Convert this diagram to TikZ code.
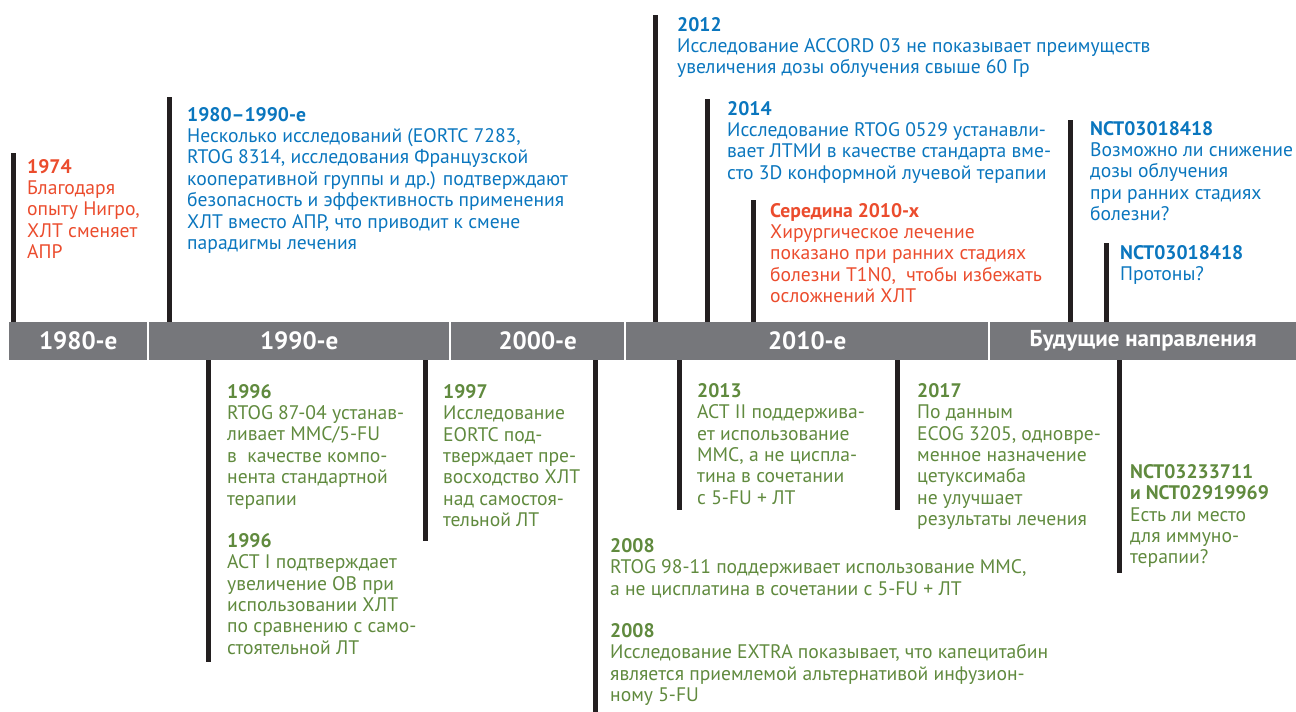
\documentclass[tikz,border=0pt]{standalone}
\usepackage{fontspec}
\setmainfont{PT Sans}
\usetikzlibrary{positioning, calc}

\definecolor{evred}{RGB}{235,76,45}
\definecolor{evblue}{RGB}{10,118,190}
\definecolor{evgreen}{RGB}{96,138,62}
\definecolor{bargray}{RGB}{118,119,123}
\definecolor{tickblack}{RGB}{35,31,32}

\begin{document}
\begin{tikzpicture}[
  x=1pt, y=-1pt,
  event/.style = {anchor=north west, align=left, inner sep=0pt,
                  font=\fontsize{19.6}{21.4}\selectfont},
  era/.style = {fill=bargray, text=white, anchor=north west, inner sep=0pt,
                minimum height=38pt, font=\fontsize{25}{25}\selectfont\bfseries},
  tick/.style = {draw=tickblack, line width=5pt}
]
  \useasboundingbox (0,0) rectangle (1296,712);

  % Decades bar
  \node[era, minimum width=138pt] (bar80) at (9,322) {1980-е};
  \node[era, minimum width=300pt] (bar90) at (149,322) {1990-е};
  \node[era, minimum width=173pt] (bar00) at (451,322) {2000-е};
  \node[era, minimum width=362pt] (bar10) at (626,322) {2010-е};
  \node[era, minimum width=306pt, font=\fontsize{23}{23}\selectfont\bfseries] (barfut) at (990,322) {Будущие направления};

  % Events above the bar
  \node[event, text=evred] (ev1974) at (27,159) {\textbf{1974}\\Благодаря\\опыту Нигро,\\ХЛТ сменяет\\АПР};
  \node[event, text=evblue] (ev8090) at (187,107) {\textbf{1980–1990-е}\\Несколько исследований (EORTC 7283,\\RTOG 8314, исследования Французской\\кооперативной группы и др.) подтверждают\\безопасность и эффективность применения\\ХЛТ вместо АПР, что приводит к смене\\парадигмы лечения};
  \node[event, text=evblue] (ev2012) at (677,17) {\textbf{2012}\\Исследование ACCORD 03 не показывает преимуществ\\увеличения дозы облучения свыше 60 Гр};
  \node[event, text=evblue] (ev2014) at (727,101) {\textbf{2014}\\Исследование RTOG 0529 устанавли-\\вает ЛТМИ в качестве стандарта вме-\\сто 3D конформной лучевой терапии};
  \node[event, text=evred] (evmid) at (770,203) {\textbf{Середина 2010-х}\\Хирургическое лечение\\показано при ранних стадиях\\болезни T1N0,\ \ чтобы избежать\\осложнений ХЛТ};
  \node[event, text=evblue] (evdose) at (1090,121) {\textbf{NCT03018418}\\Возможно ли снижение\\дозы облучения\\при ранних стадиях\\болезни?};
  \node[event, text=evblue] (evproton) at (1120,245) {\textbf{NCT03018418}\\Протоны?};

  % Events below the bar
  \node[event, text=evgreen] (ev1996a) at (227,384) {\textbf{1996}\\RTOG 87-04 устанав-\\ливает MMC/5-FU\\в\ \ качестве компо-\\нента стандартной\\терапии};
  \node[event, text=evgreen] (ev1996b) at (227,533) {\textbf{1996}\\ACT I подтверждает\\увеличение ОВ при\\использовании ХЛТ\\по сравнению с само-\\стоятельной ЛТ};
  \node[event, text=evgreen] (ev1997) at (443,384) {\textbf{1997}\\Исследование\\EORTC под-\\тверждает пре-\\восходство ХЛТ\\над самостоя-\\тельной ЛТ};
  \node[event, text=evgreen] (ev2008a) at (610,538) {\textbf{2008}\\RTOG 98-11 поддерживает использование MMC,\\а не цисплатина в сочетании с 5-FU + ЛТ};
  \node[event, text=evgreen] (ev2008b) at (610,623) {\textbf{2008}\\Исследование EXTRA показывает, что капецитабин\\является приемлемой альтернативой инфузион-\\ному 5-FU};
  \node[event, text=evgreen] (ev2013) at (697,383) {\textbf{2013}\\ACT II поддержива-\\ет использование\\MMC, а не циспла-\\тина в сочетании\\с 5-FU + ЛТ};
  \node[event, text=evgreen] (ev2017) at (917,383) {\textbf{2017}\\По данным\\ECOG 3205, одновре-\\менное назначение\\цетуксимаба\\не улучшает\\результаты лечения};
  \node[event, text=evgreen] (evimmuno) at (1130,464) {\textbf{NCT03233711}\\\textbf{и NCT02919969}\\Есть ли место\\для иммуно-\\терапии?};

  % Ticks up
  \coordinate (t1974) at (13,153);
  \coordinate (t8090) at (169,97);
  \coordinate (t2012) at (655,15);
  \coordinate (t2014) at (707,99);
  \coordinate (tmid) at (753,200);
  \coordinate (tdose) at (1070,120);
  \coordinate (tproton) at (1106,243);
  \draw[tick] (t1974) -- (t1974 |- bar80.north);
  \draw[tick] (t8090) -- (t8090 |- bar90.north);
  \draw[tick] (t2012) -- (t2012 |- bar10.north);
  \draw[tick] (t2014) -- (t2014 |- bar10.north);
  \draw[tick] (tmid) -- (tmid |- bar10.north);
  \draw[tick] (tdose) -- (tdose |- barfut.north);
  \draw[tick] (tproton) -- (tproton |- barfut.north);

  % Ticks down
  \coordinate (b1996) at (208,662);
  \coordinate (b1997) at (425,541);
  \coordinate (b2008) at (595,712);
  \coordinate (b2013) at (679,510);
  \coordinate (b2017) at (897,510);
  \coordinate (bimmuno) at (1119,573);
  \draw[tick] (bar90.south -| b1996) -- (b1996);
  \draw[tick] (bar90.south -| b1997) -- (b1997);
  \draw[tick] (bar00.south -| b2008) -- (b2008);
  \draw[tick] (bar10.south -| b2013) -- (b2013);
  \draw[tick] (bar10.south -| b2017) -- (b2017);
  \draw[tick] (barfut.south -| bimmuno) -- (bimmuno);
\end{tikzpicture}
\end{document}
